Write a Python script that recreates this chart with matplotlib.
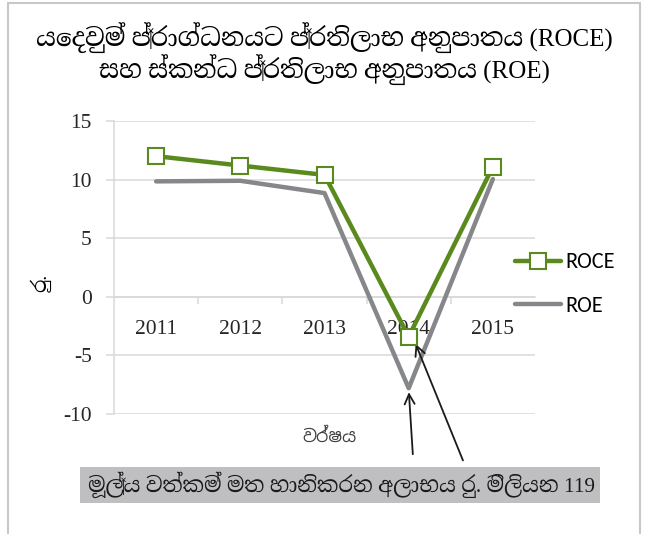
import matplotlib
matplotlib.use("Agg")
import matplotlib.pyplot as plt
from matplotlib.patches import Rectangle

plt.rcParams["axes.unicode_minus"] = False

years = ["2011", "2012", "2013", "2014", "2015"]
roce = [12.0, 11.2, 10.4, -3.4, 11.1]
roe = [9.85, 9.9, 8.85, -7.8, 10.05]

title = "යෙදවුම් ප්‍රාග්ධනයට ප්‍රතිලාභ අනුපාතය (ROCE)\nසහ ස්කන්ධ ප්‍රතිලාභ අනුපාතය (ROE)"
ylabel = "රු."
xlabel = "වර්ෂය"
note = "මූල්‍ය වත්කම් මත හානිකරන අලාභය රු. මිලියන 119"

SERIF = ["Liberation Serif", "Noto Serif Sinhala", "DejaVu Serif"]
SANS = ["Noto Sans Sinhala", "Liberation Sans", "DejaVu Sans"]
GREEN = "#5a8a1e"
GREY = "#86878b"
GRID = "#d9d9d9"

fig = plt.figure(figsize=(6.49, 5.34), dpi=100)
ax = fig.add_axes([0.1757, 0.2247, 0.6486, 0.5487])

x = list(range(len(years)))
ax.plot(x, roe, color=GREY, lw=3.2, solid_capstyle="round", label="ROE", zorder=3)
ax.plot(x, roce, color=GREEN, lw=3.2, solid_capstyle="round", marker="s",
        markersize=11, markerfacecolor="white", markeredgecolor=GREEN,
        markeredgewidth=1.5, label="ROCE", zorder=4)

ax.set_xlim(-0.5, 4.5)
ax.set_ylim(-10, 15)
ax.set_yticks([-10, -5, 0, 5, 10, 15])
ax.grid(axis="y", color=GRID, lw=1.1, zorder=0)

for s in ("top", "right"):
    ax.spines[s].set_visible(False)
ax.spines["left"].set_color(GRID)
ax.spines["left"].set_linewidth(1.1)
ax.spines["bottom"].set_position(("data", 0))
ax.spines["bottom"].set_color(GRID)
ax.spines["bottom"].set_linewidth(1.1)

ax.set_xticks(x)
ax.set_xticklabels(years, family=SERIF, fontsize=15.5, color="#262626")
ax.set_xticks([0.5, 1.5, 2.5, 3.5], minor=True)
ax.tick_params(axis="x", which="major", length=0, pad=17)
ax.tick_params(axis="x", which="minor", length=5, color=GRID, width=1.1)
ax.tick_params(axis="y", length=6, color=GRID, width=1.1, pad=10,
               labelsize=15.5, labelcolor="#262626")
for t in ax.get_yticklabels():
    t.set_family(SERIF)

fig.text(0.5, 0.9, title, ha="center", va="center", family=SERIF,
         fontsize=18, linespacing=1.05)
fig.text(0.062, 0.47, ylabel, rotation=90, ha="center", va="center",
         family=SERIF, fontsize=14)
fig.text(0.508, 0.182, xlabel, ha="center", va="center", family=SANS,
         fontsize=12.5, color="#404040")

handles, labels = ax.get_legend_handles_labels()
fig.legend(handles[::-1], labels[::-1], loc="center left",
           bbox_to_anchor=(0.7935, 0.468), frameon=False, handlelength=2.05,
           labelspacing=1.05, handletextpad=0.2, borderpad=0, borderaxespad=0,
           prop={"family": ["Carlito", "Liberation Sans"], "size": 16})

# grey note box under the chart
fig.patches.append(Rectangle((0.1233, 0.058), 0.8012, 0.0674,
                             transform=fig.transFigure, facecolor="#bfbfc1",
                             edgecolor="none"))
fig.text(0.526, 0.0918, note, ha="center", va="center", family=SERIF,
         fontsize=15.3, color="#1a1a1a")

arrow = dict(arrowstyle="->", color="#1a1a1a", lw=1.3, mutation_scale=18)
ax.annotate("", xy=(3.0, roe[3] - 0.1), xytext=(413, 77),
            textcoords="figure pixels", arrowprops=arrow)
ax.annotate("", xy=(3.07, roce[3] - 0.4), xytext=(464, 71),
            textcoords="figure pixels", arrowprops=arrow)

fig.patches.append(Rectangle((0.0123, -0.02), 0.9737, 1.0144,
                             transform=fig.transFigure, fill=False,
                             edgecolor="#c8c8c8", lw=1.5))

fig.savefig("out.png", dpi=100)
